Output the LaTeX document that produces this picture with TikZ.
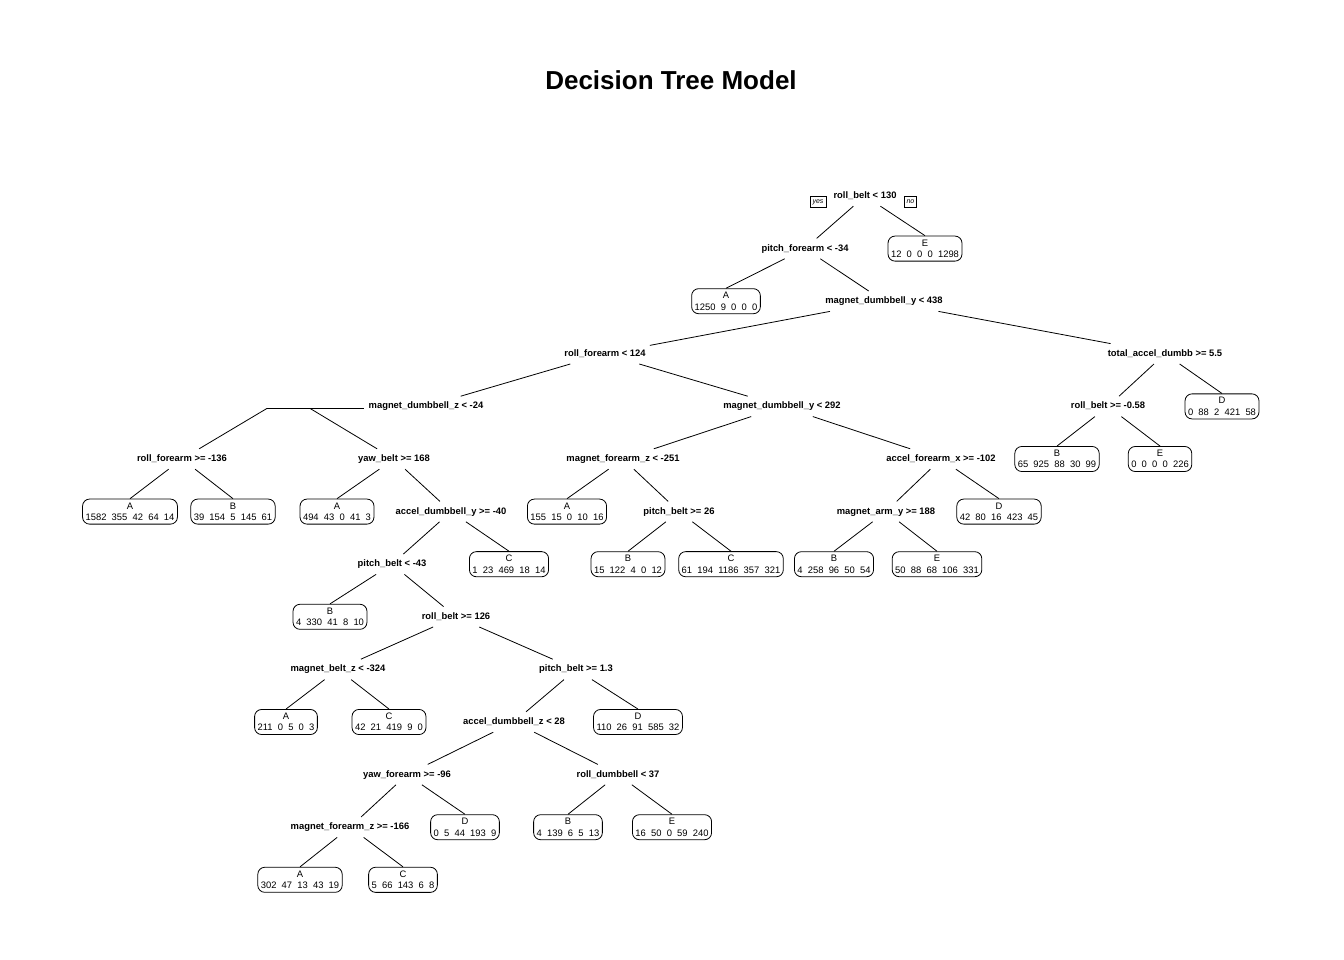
\documentclass[tikz,border=0pt]{standalone}
\usepackage{fontspec}
\setmainfont{Liberation Sans}
\usetikzlibrary{
  positioning
}

\begin{document}
\begin{tikzpicture}[
    x=1pt,y=-1pt,
    font=\fontsize{9.4}{11.5}\selectfont,
    split/.style={
      font=\fontsize{9.4}{11.5}\selectfont\bfseries,
      inner xsep=4pt,
      inner ysep=5.5pt,
      text height=7pt,
      text depth=2pt
    },
    leaf/.style={
      draw=black,
      line width=0.8pt,
      rounded corners=7pt,
      align=center,
      inner xsep=3pt,
      inner ysep=3.5pt
    },
    tag/.style={
      draw=black,
      line width=0.7pt,
      font=\fontsize{7}{8}\selectfont\itshape,
      inner xsep=2.5pt,
      inner ysep=2pt,
      text height=5pt,
      text depth=1.5pt
    },
    branch/.style={
      draw=black,
      line width=0.8pt
    }
  ]
  \newcommand{\vSep}{52.6}
  \newcommand{\topY}{196}
  \useasboundingbox (0,0) rectangle (1344,960);

  % Title
  \node[font=\fontsize{26}{30}\selectfont\bfseries] (title) at (671,80) {Decision Tree Model};

  % Root
  \node[split] (root) at (865,\topY) {roll\_belt < 130};
  \node[tag, left=3pt of root, yshift=-6pt] (yes) {yes};
  \node[tag, right=3pt of root, yshift=-6pt] (no) {no};

  % Level 1-3
  \node[split] (pf34) at (805,\topY+\vSep) {pitch\_forearm < -34};
  \node[leaf] (leafE1) at (925,\topY+\vSep) {E\\12~~0~~0~~0~~1298};
  \node[leaf] (leafA1) at (726,\topY+2*\vSep) {A\\1250~~9~~0~~0~~0};
  \node[split] (mdy438) at (884,\topY+2*\vSep) {magnet\_dumbbell\_y < 438};
  \node[split] (rf124) at (605,\topY+3*\vSep) {roll\_forearm < 124};
  \node[split] (tad55) at (1165,\topY+3*\vSep) {total\_accel\_dumbb >= 5.5};

  % Level 4
  \node[split] (mdz24) at (426,\topY+4*\vSep) {magnet\_dumbbell\_z < -24};
  \node[split] (mdy292) at (782,\topY+4*\vSep) {magnet\_dumbbell\_y < 292};
  \node[split] (rb058) at (1108,\topY+4*\vSep) {roll\_belt >= -0.58};
  \node[leaf] (leafD1) at (1222,\topY+4*\vSep) {D\\0~~88~~2~~421~~58};
  \coordinate (mdzL) at (267,\topY+4*\vSep+2);
  \coordinate (mdzR) at (310,\topY+4*\vSep+2);

  % Level 5
  \node[split] (rf136) at (182,\topY+5*\vSep) {roll\_forearm >= -136};
  \node[split] (yb168) at (394,\topY+5*\vSep) {yaw\_belt >= 168};
  \node[split] (mfz251) at (623,\topY+5*\vSep) {magnet\_forearm\_z < -251};
  \node[split] (afx102) at (941,\topY+5*\vSep) {accel\_forearm\_x >= -102};
  \node[leaf] (leafB1) at (1057,\topY+5*\vSep) {B\\65~~925~~88~~30~~99};
  \node[leaf] (leafE2) at (1160,\topY+5*\vSep) {E\\0~~0~~0~~0~~226};

  % Level 6
  \node[leaf] (leafA2) at (130,\topY+6*\vSep) {A\\1582~~355~~42~~64~~14};
  \node[leaf] (leafB2) at (233,\topY+6*\vSep) {B\\39~~154~~5~~145~~61};
  \node[leaf] (leafA3) at (337,\topY+6*\vSep) {A\\494~~43~~0~~41~~3};
  \node[split] (ady40) at (451,\topY+6*\vSep) {accel\_dumbbell\_y >= -40};
  \node[leaf] (leafA4) at (567,\topY+6*\vSep) {A\\155~~15~~0~~10~~16};
  \node[split] (pb26) at (679,\topY+6*\vSep) {pitch\_belt >= 26};
  \node[split] (may188) at (886,\topY+6*\vSep) {magnet\_arm\_y >= 188};
  \node[leaf] (leafD2) at (999,\topY+6*\vSep) {D\\42~~80~~16~~423~~45};

  % Level 7
  \node[split] (pb43) at (392,\topY+7*\vSep) {pitch\_belt < -43};
  \node[leaf] (leafC1) at (509,\topY+7*\vSep) {C\\1~~23~~469~~18~~14};
  \node[leaf] (leafB3) at (628,\topY+7*\vSep) {B\\15~~122~~4~~0~~12};
  \node[leaf] (leafC2) at (731,\topY+7*\vSep) {C\\61~~194~~1186~~357~~321};
  \node[leaf] (leafB4) at (834,\topY+7*\vSep) {B\\4~~258~~96~~50~~54};
  \node[leaf] (leafE3) at (937,\topY+7*\vSep) {E\\50~~88~~68~~106~~331};

  % Level 8-9
  \node[leaf] (leafB5) at (330,\topY+8*\vSep) {B\\4~~330~~41~~8~~10};
  \node[split] (rb126) at (456,\topY+8*\vSep) {roll\_belt >= 126};
  \node[split] (mbz324) at (338,\topY+9*\vSep) {magnet\_belt\_z < -324};
  \node[split] (pb13) at (576,\topY+9*\vSep) {pitch\_belt >= 1.3};

  % Level 10-11
  \node[leaf] (leafA5) at (286,\topY+10*\vSep) {A\\211~~0~~5~~0~~3};
  \node[leaf] (leafC3) at (389,\topY+10*\vSep) {C\\42~~21~~419~~9~~0};
  \node[split] (adz28) at (514,\topY+10*\vSep) {accel\_dumbbell\_z < 28};
  \node[leaf] (leafD3) at (638,\topY+10*\vSep) {D\\110~~26~~91~~585~~32};
  \node[split] (yf96) at (407,\topY+11*\vSep) {yaw\_forearm >= -96};
  \node[split] (rd37) at (618,\topY+11*\vSep) {roll\_dumbbell < 37};

  % Level 12-13
  \node[split] (mfz166) at (350,\topY+12*\vSep) {magnet\_forearm\_z >= -166};
  \node[leaf] (leafD4) at (465,\topY+12*\vSep) {D\\0~~5~~44~~193~~9};
  \node[leaf] (leafB6) at (568,\topY+12*\vSep) {B\\4~~139~~6~~5~~13};
  \node[leaf] (leafE4) at (672,\topY+12*\vSep) {E\\16~~50~~0~~59~~240};
  \node[leaf] (leafA6) at (300,\topY+13*\vSep) {A\\302~~47~~13~~43~~19};
  \node[leaf] (leafC4) at (403,\topY+13*\vSep) {C\\5~~66~~143~~6~~8};

  % Branches
  \draw[branch] (root) -- (pf34);
  \draw[branch] (root) -- (leafE1.north);
  \draw[branch] (pf34) -- (leafA1.north);
  \draw[branch] (pf34) -- (mdy438);
  \draw[branch] (mdy438) -- (rf124);
  \draw[branch] (mdy438) -- (tad55);
  \draw[branch] (rf124) -- (mdz24);
  \draw[branch] (rf124) -- (mdy292);
  \draw[branch] (tad55) -- (rb058);
  \draw[branch] (tad55) -- (leafD1.north);
  \draw[branch] (rb058) -- (leafB1.north);
  \draw[branch] (rb058) -- (leafE2.north);
  \draw[branch] (mdzL) -- (mdzL -| mdz24.west);
  \draw[branch] (mdzL) -- (rf136);
  \draw[branch] (mdzR) -- (yb168);
  \draw[branch] (mdy292) -- (mfz251);
  \draw[branch] (mdy292) -- (afx102);
  \draw[branch] (rf136) -- (leafA2.north);
  \draw[branch] (rf136) -- (leafB2.north);
  \draw[branch] (yb168) -- (leafA3.north);
  \draw[branch] (yb168) -- (ady40);
  \draw[branch] (mfz251) -- (leafA4.north);
  \draw[branch] (mfz251) -- (pb26);
  \draw[branch] (afx102) -- (may188);
  \draw[branch] (afx102) -- (leafD2.north);
  \draw[branch] (ady40) -- (pb43);
  \draw[branch] (ady40) -- (leafC1.north);
  \draw[branch] (pb26) -- (leafB3.north);
  \draw[branch] (pb26) -- (leafC2.north);
  \draw[branch] (may188) -- (leafB4.north);
  \draw[branch] (may188) -- (leafE3.north);
  \draw[branch] (pb43) -- (leafB5.north);
  \draw[branch] (pb43) -- (rb126);
  \draw[branch] (rb126) -- (mbz324);
  \draw[branch] (rb126) -- (pb13);
  \draw[branch] (mbz324) -- (leafA5.north);
  \draw[branch] (mbz324) -- (leafC3.north);
  \draw[branch] (pb13) -- (adz28);
  \draw[branch] (pb13) -- (leafD3.north);
  \draw[branch] (adz28) -- (yf96);
  \draw[branch] (adz28) -- (rd37);
  \draw[branch] (yf96) -- (mfz166);
  \draw[branch] (yf96) -- (leafD4.north);
  \draw[branch] (rd37) -- (leafB6.north);
  \draw[branch] (rd37) -- (leafE4.north);
  \draw[branch] (mfz166) -- (leafA6.north);
  \draw[branch] (mfz166) -- (leafC4.north);
\end{tikzpicture}
\end{document}
